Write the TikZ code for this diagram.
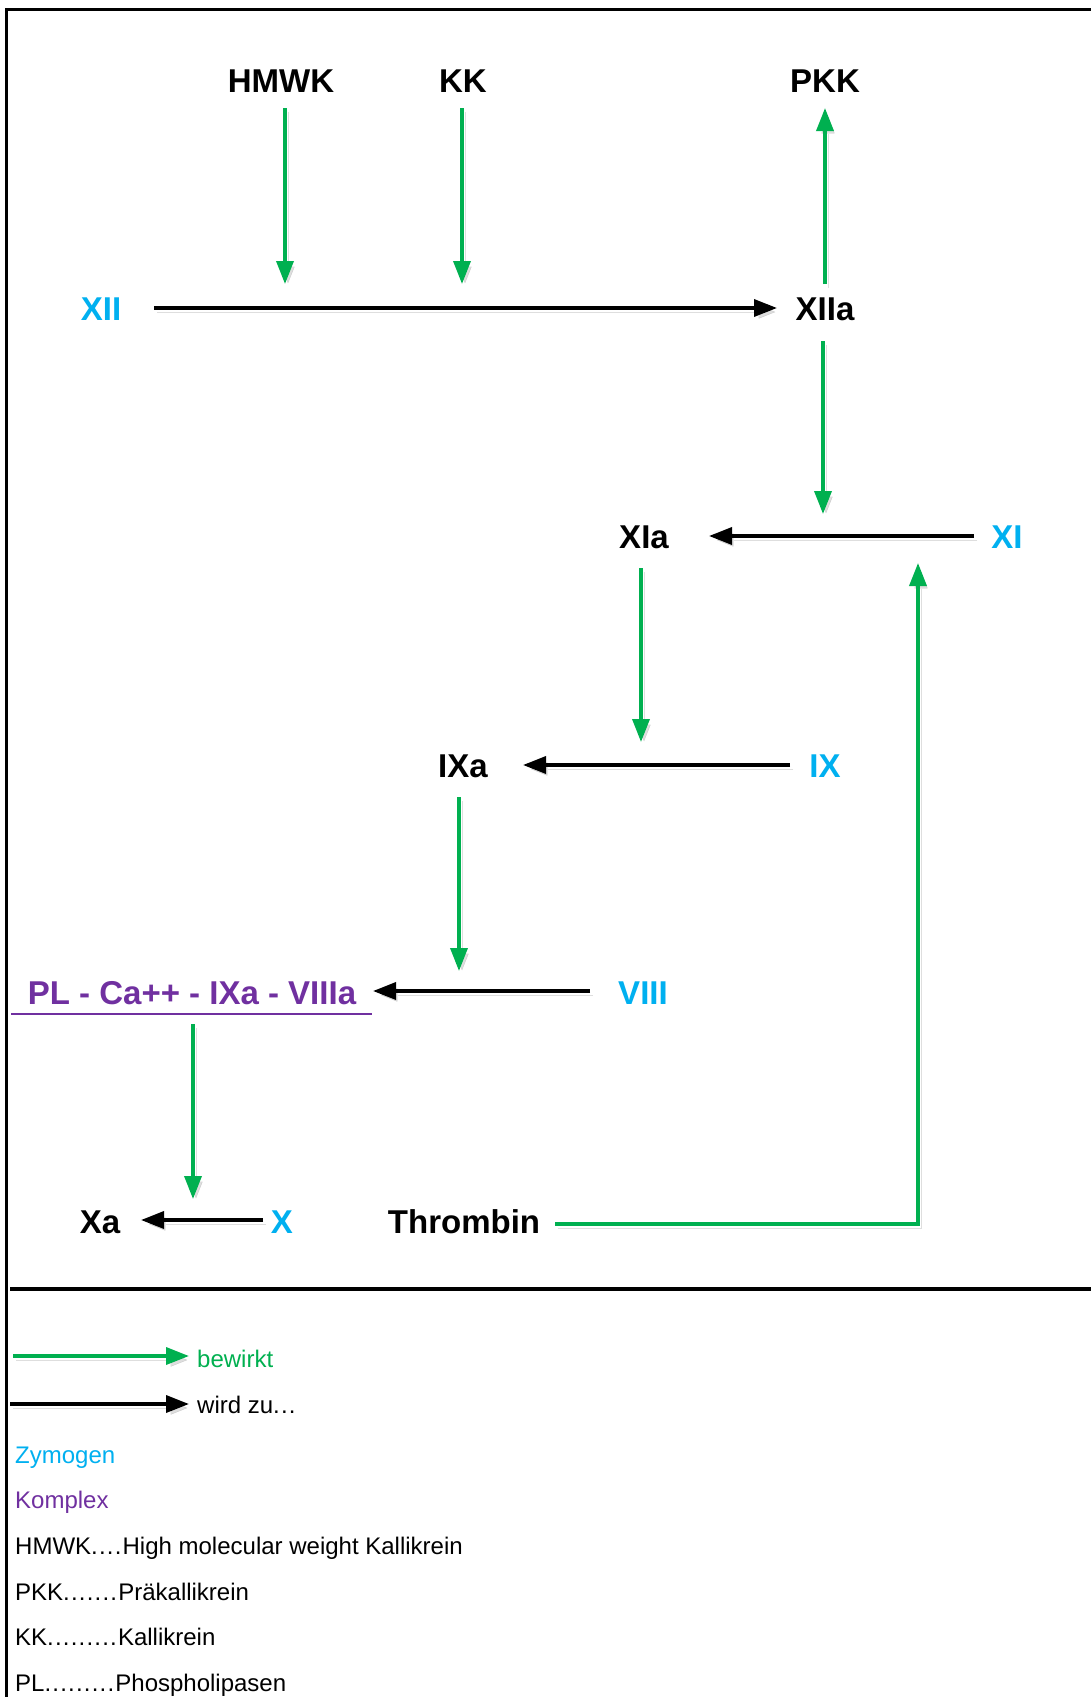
\documentclass[tikz,border=0pt]{standalone}
\usepackage{fontspec}
\setmainfont{Liberation Sans}
\usetikzlibrary{arrows.meta}
\definecolor{grn}{HTML}{00B050}
\definecolor{zym}{HTML}{00B0F0}
\definecolor{kpx}{HTML}{7030A0}
\newcommand\mydots[1]{\foreach \k in {1,...,#1}{.\kern1.2pt}}
\begin{document}
\begin{tikzpicture}[x=1pt,y=-1pt,
  lab/.style={font=\fontsize{33}{40}\selectfont\bfseries, inner sep=0pt, text height=24pt, text depth=0pt},
  zy/.style={lab, text=zym},
  leg/.style={font=\fontsize{24}{29}\selectfont, inner sep=0pt, anchor=base west},
  shd/.style={preaction={draw=black, opacity=0.13, transform canvas={shift={(3pt,-4pt)}}}},
  ga/.style={shd, draw=grn, line width=3.5pt, -{Triangle[length=23pt,width=17pt]}},
  ba/.style={shd, draw=black, line width=3.5pt, -{Triangle[length=23pt,width=17pt]}},
  frame/.style={draw=black, line width=3pt}
]
\useasboundingbox (0,0) rectangle (1091,1697);
\fill[white] (0,0) rectangle (1091,1697);
% frame
\draw[frame] (5,9) -- (1091,9);
\draw[frame] (6,9) -- (6,1697);
\draw[frame, line width=3.5pt] (10,1289) -- (1091,1289);

% nodes
\node[lab] (HMWK) at (281,80) {HMWK};
\node[lab] (KK) at (463,80) {KK};
\node[lab] (PKK) at (825,80) {PKK};
\node[zy] (XII) at (101,308) {XII};
\node[lab] (XIIa) at (825,308) {XIIa};
\node[lab] (XIa) at (644,536) {XIa};
\node[zy] (XI) at (1007,536) {XI};
\node[lab] (IXa) at (463,765) {IXa};
\node[zy] (IX) at (825,765) {IX};
\node[lab, text=kpx] (CPX) at (192,992) {PL - Ca++ - IXa - VIIIa};
\node[zy] (VIII) at (643,992) {VIII};
\node[lab] (Xa) at (100,1221) {Xa};
\node[zy] (X) at (282,1221) {X};
\node[lab] (Thr) at (464,1221) {Thrombin};

% underline of complex
\draw[kpx, line width=2pt] (11,1014) -- (372,1014);

% free ends
\coordinate (hmE) at (285,284);
\coordinate (kkE) at (462,284);
\coordinate (xiE) at (823,514);
\coordinate (thrC) at (918,1224);
\coordinate (thrE) at (918,563);
\coordinate (ixE) at (641,742);
\coordinate (cpxE) at (459,971);
\coordinate (xaE) at (193,1199);

% connectors
\draw[ga] ([shift={(4,28)}]HMWK.center) -- (hmE);
\draw[ga] ([shift={(-1,28)}]KK.center) -- (kkE);
\draw[ba] ([shift={(53,0)}]XII.center) -- ([shift={(-48,0)}]XIIa.center);
\draw[ga] ([shift={(0,-24)}]XIIa.center) -- ([shift={(0,28)}]PKK.center);
\draw[ga] ([shift={(-2,33)}]XIIa.center) -- (xiE);
\draw[ba] ([shift={(-33,0)}]XI.center) -- ([shift={(65,0)}]XIa.center);
\draw[ga] ([shift={(91,3)}]Thr.center) -- (thrC) -- (thrE);
\draw[ga] ([shift={(-3,32)}]XIa.center) -- (ixE);
\draw[ba] ([shift={(-35,0)}]IX.center) -- ([shift={(60,0)}]IXa.center);
\draw[ga] ([shift={(-4,32)}]IXa.center) -- (cpxE);
\draw[ba] ([shift={(-53,-1)}]VIII.center) -- ([shift={(181,-1)}]CPX.center);
\draw[ga] ([shift={(1,32)}]CPX.center) -- (xaE);
\draw[ba] ([shift={(-19,-1)}]X.center) -- ([shift={(41,-1)}]Xa.center);

% legend
\coordinate (lgA1) at (13,1356);
\coordinate (lgA2) at (189,1356);
\coordinate (lgB1) at (10,1404);
\coordinate (lgB2) at (189,1404);
\draw[ga] (lgA1) -- (lgA2);
\draw[ba] (lgB1) -- (lgB2);
\node[leg, text=grn] (lbA) at (197,1367) {bewirkt};
\node[leg] (lbB) at (197,1413) {wird zu\mydots{3}};
\node[leg, text=zym] (lz) at (15,1463) {Zymogen};
\node[leg, text=kpx] (lk) at (15,1508) {Komplex};
\node[leg] (l1) at (15,1554) {HMWK\mydots{4}High molecular weight Kallikrein};
\node[leg] (l2) at (15,1600) {PKK\mydots{7}Präkallikrein};
\node[leg] (l3) at (15,1645) {KK\mydots{9}Kallikrein};
\node[leg] (l4) at (15,1691) {PL\mydots{9}Phospholipasen};
\end{tikzpicture}
\end{document}
